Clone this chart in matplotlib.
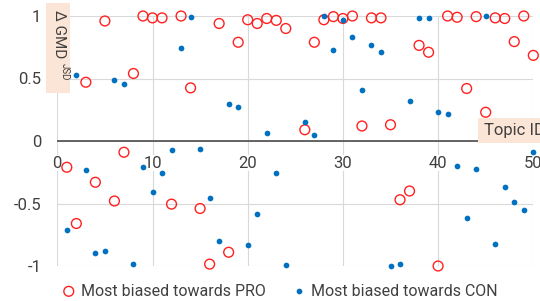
import matplotlib
matplotlib.use("Agg")
import matplotlib.pyplot as plt
import matplotlib.transforms as mtransforms
from matplotlib.patches import Rectangle

# topic 25 has no points in the source chart
topic_ids = [1, 2, 3, 4, 5, 6, 7, 8, 9, 10,
             11, 12, 13, 14, 15, 16, 17, 18, 19, 20,
             21, 22, 23, 24, 26, 27, 28, 29, 30,
             31, 32, 33, 34, 35, 36, 37, 38, 39, 40,
             41, 42, 43, 44, 45, 46, 47, 48, 49, 50]

pro_bias = [-0.21, -0.66, 0.47, -0.33, 0.96, -0.48, -0.09, 0.54, 1.00, 0.985,
            0.985, -0.505, 1.00, 0.425, -0.54, -0.985, 0.94, -0.89, 0.79, 0.97,
            0.94, 0.98, 0.965, 0.90, 0.09, 0.79, 0.97, 0.995, 0.98,
            1.00, 0.12, 0.985, 0.985, 0.13, -0.47, -0.40, 0.765, 0.71, -1.00,
            1.00, 0.99, 0.42, 0.995, 0.23, 0.985, 0.98, 0.795, 1.00, 0.685]

con_bias = [-0.71, 0.525, -0.235, -0.895, -0.88, 0.485, 0.455, -0.98, -0.205, -0.405,
            -0.255, -0.075, 0.745, 0.995, -0.065, -0.455, -0.80, 0.30, 0.275, -0.83,
            -0.58, 0.065, -0.255, -0.99, 0.155, 0.045, 1.00, 0.725, 0.965,
            0.835, 0.405, 0.77, 0.715, -1.00, -0.985, 0.32, 0.985, 0.985, 0.23,
            0.22, -0.20, -0.615, -0.22, 1.00, -0.82, -0.37, -0.49, -0.55, -0.085]

x_ticks = [0, 10, 20, 30, 40, 50]
y_ticks = [-1, -0.5, 0, 0.5, 1]
y_tick_labels = ["-1", "-0.5", "0", "0.5", "1"]

RED = "#ff2020"
BLUE = "#0070c0"
TXT = "#404040"
PEACH = "#fbe5d6"

plt.rcParams["font.family"] = ["Roboto", "DejaVu Sans"]

fig = plt.figure(figsize=(5.4, 3.01), dpi=100)
W, H = 540, 301
ax = fig.add_axes([57.3 / W, 35 / H, 476 / W, 250 / H])

ax.set_xlim(0, 50)
ax.set_ylim(-1, 1)
for s in ax.spines.values():
    s.set_visible(False)

ax.set_xticks(x_ticks)
ax.set_yticks(y_ticks)
ax.set_yticklabels(y_tick_labels)
ax.tick_params(axis="both", length=0)
ax.tick_params(axis="y", labelsize=12, labelcolor=TXT, pad=11.5)
ax.tick_params(axis="x", labelbottom=False)
ax.grid(True, color="#d9d9d9", linewidth=0.8, zorder=0)
ax.set_axisbelow(True)

ax.axhline(0, color="#595959", linewidth=1.3, zorder=1)

# x tick labels sit just under the zero line
off = mtransforms.offset_copy(ax.transData, fig=fig, x=0, y=-22, units="dots")
for t in x_ticks:
    ax.text(t, 0, str(t), transform=off, ha="center", va="center",
            fontsize=12, color=TXT, zorder=1.5,
            bbox=dict(facecolor="white", edgecolor="none", pad=0.5))

ax.scatter(topic_ids, pro_bias, s=50, facecolors="none", edgecolors=RED,
           linewidths=1.0, zorder=3, clip_on=False,
           label="Most biased towards PRO")
ax.scatter(topic_ids, con_bias, s=17, color=BLUE, linewidths=0,
           zorder=4, clip_on=False, label="Most biased towards CON")

# axis title boxes
fig.patches.append(Rectangle((46 / W, (H - 93) / H), 24 / W, 90 / H,
                             transform=fig.transFigure, facecolor=PEACH,
                             edgecolor="none", zorder=5))
fig.text(58.5 / W, (H - 10) / H, "Δ GMD", rotation=270, ha="center", va="top",
         fontsize=11, color=TXT, zorder=6)
fig.text(64.5 / W, (H - 63) / H, "JSD", rotation=270, ha="center", va="top",
         fontsize=7, color=TXT, zorder=6)

fig.patches.append(Rectangle((478 / W, (H - 143) / H), 70 / W, 25 / H,
                             transform=fig.transFigure, facecolor=PEACH,
                             edgecolor="none", zorder=5))
fig.text(484 / W, (H - 130) / H, "Topic ID", ha="left", va="center",
         fontsize=12, color=TXT, zorder=6)

leg = fig.legend(loc="center", bbox_to_anchor=(280 / W, (H - 291) / H),
                 ncol=2, frameon=False, fontsize=11.5, handlelength=0.8,
                 handletextpad=0.35, columnspacing=1.7, borderpad=0)
for t in leg.get_texts():
    t.set_color(TXT)

fig.savefig("out.png", dpi=100)
